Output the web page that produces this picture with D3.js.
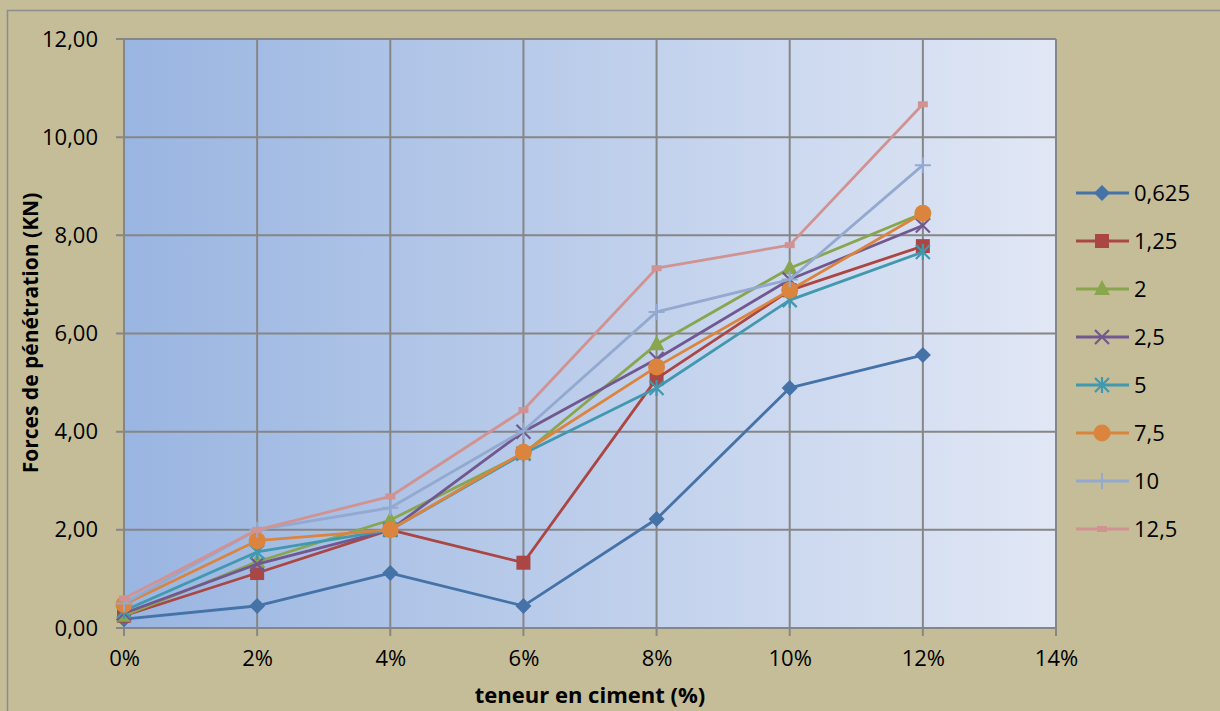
<!DOCTYPE html>
<html><head><meta charset="utf-8">
<script src="https://cdn.jsdelivr.net/npm/d3@7"></script>
<style>body{margin:0;background:#c4bd97;}svg{display:block;font-family:"Open Sans",Calibri,sans-serif;}</style>
</head><body>
<svg id="c" width="1220" height="711"></svg>
<script>
const xValues = [0, 2, 4, 6, 8, 10, 12];
const xTicks = [0, 2, 4, 6, 8, 10, 12, 14];
const yTicks = [0, 2, 4, 6, 8, 10, 12];
const seriesNames = ["0,625", "1,25", "2", "2,5", "5", "7,5", "10", "12,5"];
const s0625 = [0.18, 0.45, 1.12, 0.45, 2.22, 4.89, 5.56];
const s125  = [0.25, 1.12, 2.00, 1.33, 5.08, 6.88, 7.78];
const s2    = [0.25, 1.35, 2.20, 3.55, 5.78, 7.33, 8.45];
const s25   = [0.30, 1.30, 2.00, 4.00, 5.48, 7.10, 8.20];
const s5    = [0.35, 1.55, 2.00, 3.55, 4.89, 6.68, 7.66];
const s75   = [0.48, 1.78, 2.00, 3.58, 5.32, 6.88, 8.45];
const s10   = [0.50, 2.00, 2.45, 4.02, 6.44, 7.10, 9.43];
const s125b = [0.60, 2.00, 2.68, 4.44, 7.33, 7.80, 10.67];
const seriesValues = [s0625, s125, s2, s25, s5, s75, s10, s125b];
const colors = ["#4572a7", "#aa4643", "#89a54e", "#71588f", "#4198af", "#db843d", "#93a9cf", "#d19392"];
const markers = ["diamond", "square", "triangle", "x", "star", "circle", "plus", "dash"];

const svg = d3.select("#c");
const L = 124, R = 1056, T = 39, B = 628;
const x = d3.scaleLinear().domain([0, 14]).range([L, R]);
const y = d3.scaleLinear().domain([0, 12]).range([B, T]);

svg.append("rect").attr("x", 7.5).attr("y", 10.5).attr("width", 1225).attr("height", 720)
  .attr("fill", "#c4bd97").attr("stroke", "#8c8c8c").attr("stroke-width", 1.5);

const defs = svg.append("defs");
const g = defs.append("linearGradient").attr("id", "bg").attr("x1", "0").attr("x2", "1").attr("y1", "0").attr("y2", "0");
g.append("stop").attr("offset", "0").attr("stop-color", "#99b5e1");
g.append("stop").attr("offset", "1").attr("stop-color", "#e1e7f5");
svg.append("rect").attr("x", L).attr("y", T).attr("width", R - L).attr("height", B - T).attr("fill", "url(#bg)");

svg.append("g").selectAll("line").data(yTicks).join("line")
  .attr("x1", L - 8).attr("x2", R).attr("y1", d => y(d)).attr("y2", d => y(d))
  .attr("stroke", "#868686").attr("stroke-width", 2);
svg.append("g").selectAll("line").data(xTicks).join("line")
  .attr("y1", T).attr("y2", B + 8).attr("x1", d => x(d)).attr("x2", d => x(d))
  .attr("stroke", "#868686").attr("stroke-width", 2);

const yAxis = svg.append("g").attr("transform", `translate(${L - 8},0)`)
  .call(d3.axisLeft(y).tickValues(yTicks).tickSize(0).tickPadding(18).tickFormat(d => d3.format(".2f")(d).replace(".", ",")));
yAxis.select(".domain").remove();
yAxis.attr("font-size", 22).attr("font-family", "Open Sans, sans-serif");
yAxis.selectAll("text").attr("fill", "#000");
const xAxis = svg.append("g").attr("transform", `translate(0,${B + 8})`)
  .call(d3.axisBottom(x).tickValues(xTicks).tickSize(0).tickPadding(14).tickFormat(d => d + "%"));
xAxis.select(".domain").remove();
xAxis.attr("font-size", 22).attr("font-family", "Open Sans, sans-serif");
xAxis.selectAll("text").attr("fill", "#000");

svg.append("text").attr("x", 590).attr("y", 703).attr("text-anchor", "middle")
  .attr("font-size", 22).attr("font-weight", "bold").text("teneur en ciment (%)");
svg.append("text").attr("transform", "translate(38,333) rotate(-90)").attr("text-anchor", "middle")
  .attr("font-size", 21).attr("font-weight", "bold").text("Forces de pénétration (KN)");

function drawMarker(sel, type, color) {
  if (type === "diamond") sel.append("path").attr("d", "M0,-8L8,0L0,8L-8,0Z").attr("fill", color);
  else if (type === "square") sel.append("rect").attr("x", -7).attr("y", -7).attr("width", 14).attr("height", 14).attr("fill", color);
  else if (type === "triangle") sel.append("path").attr("d", "M0,-9L8,6L-8,6Z").attr("fill", color);
  else if (type === "x") sel.append("path").attr("d", "M-7,-7L7,7M-7,7L7,-7").attr("stroke", color).attr("stroke-width", 2.2);
  else if (type === "star") sel.append("path").attr("d", "M-7,-7L7,7M-7,7L7,-7M0,-8L0,8").attr("stroke", color).attr("stroke-width", 2.2);
  else if (type === "circle") sel.append("circle").attr("r", 8.5).attr("fill", color);
  else if (type === "plus") sel.append("path").attr("d", "M-8,0L8,0M0,-8L0,8").attr("stroke", color).attr("stroke-width", 2);
  else if (type === "dash") sel.append("rect").attr("x", -5).attr("y", -3).attr("width", 10).attr("height", 6).attr("fill", color);
}

const line = d3.line().x((d, i) => x(xValues[i])).y(d => y(d));
seriesValues.forEach((vals, si) => {
  const gs = svg.append("g");
  gs.append("path").datum(vals).attr("d", line).attr("fill", "none")
    .attr("stroke", colors[si]).attr("stroke-width", 2.8).attr("stroke-linejoin", "round");
  vals.forEach((v, i) => {
    const m = gs.append("g").attr("transform", `translate(${x(xValues[i])},${y(v)})`);
    drawMarker(m, markers[si], colors[si]);
  });
});

const lg = svg.append("g");
seriesNames.forEach((n, i) => {
  const yy = 193 + i * 48;
  const it = lg.append("g").attr("transform", `translate(0,${yy})`);
  it.append("line").attr("x1", 1076).attr("x2", 1129).attr("y1", 0).attr("y2", 0)
    .attr("stroke", colors[i]).attr("stroke-width", 2.8);
  const m = it.append("g").attr("transform", "translate(1102,0)");
  drawMarker(m, markers[i], colors[i]);
  it.append("text").attr("x", 1134).attr("y", 0).attr("dy", "0.35em").attr("font-size", 22).text(n);
});
</script>
</body></html>
